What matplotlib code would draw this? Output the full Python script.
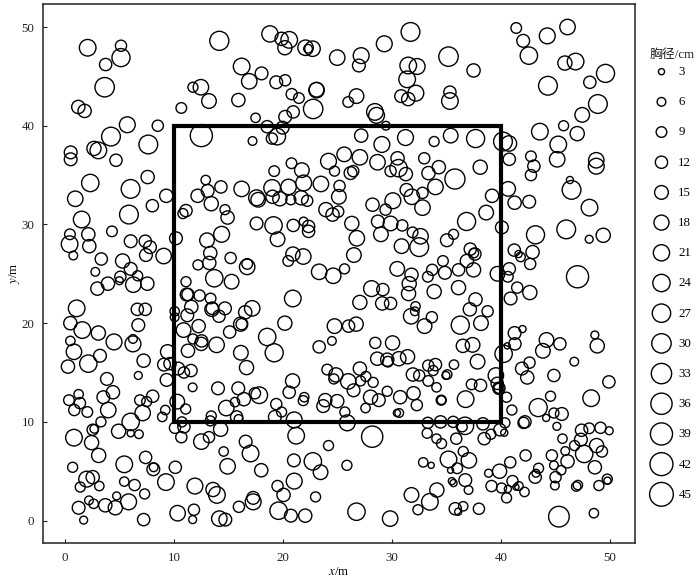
import matplotlib
matplotlib.use("Agg")
import matplotlib.pyplot as plt
from matplotlib.patches import Rectangle
import numpy as np

plt.rcParams['font.family'] = ['Liberation Serif', 'Noto Sans CJK SC']
plt.rcParams['mathtext.fontset'] = 'stix'

# tree positions (m) and diameter at breast height (cm), same order in all three lists
tree_x = [
    2.06, 5.12, 5.12, 3.71, 3.62, 1.2, 1.78, 14.15, 16.2, 16.9,
    18.03, 11.73, 12.46, 13.2, 15.9, 10.66, 5.7, 8.5, 4.2, 12.5,
    7.63, 2.64, 3.04, 0.5, 0.5, 4.66, 2.3, 7.57, 6.0, 9.28,
    17.2, 12.9, 13.08, 14.3, 16.2, 18.8, 19.87, 20.57, 20.17, 22.07,
    22.71, 22.3, 24.98, 27.18, 26.97, 29.3, 31.71, 31.5, 32.32, 31.4,
    32.2, 30.85, 31.5, 35.2, 35.33, 35.33, 37.5, 19.38, 20.2, 20.8,
    21.46, 23.08, 23.08, 22.77, 20.94, 20.2, 17.48, 18.55, 19.96, 19.47,
    18.98, 26.75, 25.99, 28.44, 28.59, 29.45, 27.18, 29.08, 31.25, 33.88,
    35.4, 24.18, 25.62, 27.06, 24.73, 20.78, 21.73, 19.19, 26.2, 26.45,
    28.68, 30.52, 30.61, 29.88, 31.28, 32.97, 33.36, 34.31, 34.0, 37.69,
    40.2, 40.75, 40.78, 38.11, 35.79, 40.68, 39.2, 41.42, 42.06, 42.58,
    44.27, 46.13, 45.89, 46.87, 48.18, 49.62, 44.33, 48.92, 47.48, 43.59,
    45.77, 47.02, 45.28, 45.18, 42.77, 43.04, 42.77, 48.77, 48.77, 46.35,
    46.5, 48.15, 41.27, 42.61, 38.66, 36.86, 40.1, 43.19, 46.01, 48.12,
    49.41, 35.66, 35.05, 37.2, 37.62, 37.53, 36.89, 41.24, 41.63, 41.82,
    42.92, 42.7, 34.69, 34.87, 36.12, 37.5, 39.7, 40.78, 40.65, 47.05,
    36.12, 41.51, 42.67, 40.9, 37.68, 37.16, 38.79, 36.28, 38.18, 41.27,
    42.0, 41.3, 40.59, 40.26, 44.2, 45.43, 43.87, 48.64, 48.86, 46.75,
    42.64, 41.94, 44.88, 36.52, 37.41, 37.87, 35.7, 17.57, 17.72, 19.0,
    20.51, 21.9, 23.48, 25.19, 25.13, 19.04, 19.71, 20.72, 21.67, 22.22,
    23.94, 24.55, 25.07, 17.57, 19.13, 19.5, 20.94, 21.89, 22.35, 22.35,
    26.32, 26.78, 26.51, 25.65, 24.61, 23.32, 21.86, 20.91, 20.48, 16.71,
    16.71, 20.9, 17.17, 16.53, 16.2, 20.17, 18.55, 19.19, 16.13, 16.65,
    23.32, 24.49, 24.73, 26.02, 26.72, 27.06, 28.13, 29.17, 29.11, 29.88,
    28.47, 30.06, 28.65, 29.57, 29.63, 30.64, 31.44, 32.17, 32.11, 31.77,
    33.0, 33.67, 33.88, 31.53, 31.59, 31.8, 30.49, 33.3, 33.7, 28.22,
    29.42, 30.09, 31.34, 31.83, 32.81, 32.81, 28.71, 29.88, 30.95, 28.99,
    31.9, 32.63, 32.51, 30.89, 0.92, 1.51, 5.85, 8.0, 12.16, 13.41,
    14.67, 14.91, 10.81, 11.09, 4.29, 0.43, 2.12, 0.4, 2.21, 0.74,
    6.01, 7.35, 7.78, 7.41, 9.04, 10.17, 3.31, 5.27, 6.01, 2.76,
    5.06, 4.97, 6.65, 3.92, 2.95, 6.25, 7.54, 13.02, 14.36, 13.32,
    13.23, 12.19, 15.19, 13.69, 15.28, 11.09, 11.15, 11.27, 12.34, 13.35,
    11.58, 11.21, 13.47, 13.5, 14.67, 14.12, 10.05, 10.05, 1.05, 0.47,
    1.57, 3.04, 0.47, 0.8, 3.19, 4.48, 6.62, 7.35, 6.71, 6.22,
    6.22, 7.2, 9.4, 10.87, 12.25, 11.73, 12.53, 12.49, 13.9, 11.27,
    15.1, 16.11, 2.12, 0.25, 9.07, 9.62, 10.38, 11.55, 10.9, 9.31,
    6.71, 3.83, 11.7, 14.03, 15.89, 4.38, 1.23, 0.34, 1.35, 3.5,
    0.83, 2.03, 3.95, 6.86, 7.48, 8.03, 7.11, 6.01, 3.28, 2.52,
    2.67, 4.9, 6.01, 6.77, 0.8, 2.42, 3.07, 9.19, 8.91, 10.29,
    11.06, 14.79, 15.59, 16.41, 15.74, 15.92, 13.41, 13.32, 10.72, 10.08,
    10.9, 10.66, 14.27, 13.2, 12.5, 14.55, 16.57, 14.91, 7.38, 5.42,
    0.68, 8.09, 8.12, 10.11, 1.97, 2.52, 1.38, 3.13, 5.42, 6.37,
    9.25, 11.91, 13.57, 13.93, 7.29, 4.72, 2.18, 2.61, 5.82, 3.68,
    4.6, 1.23, 1.69, 7.2, 10.32, 11.82, 11.7, 14.15, 14.7, 15.95,
    24.06, 24.86, 24.67, 25.99, 27.06, 27.12, 27.61, 28.28, 26.48, 29.57,
    28.04, 28.8, 27.58, 30.76, 31.99, 32.29, 20.88, 20.57, 21.95, 21.86,
    19.38, 19.87, 19.25, 21.03, 21.21, 23.88, 23.69, 24.98, 25.68, 25.9,
    28.19, 30.46, 30.67, 33.3, 34.47, 33.24, 34.1, 34.56, 32.88, 33.61,
    17.42, 17.82, 17.02, 18.0, 24.18, 25.87, 21.0, 22.74, 23.45, 21.03,
    19.5, 20.05, 22.99, 17.26, 17.26, 19.59, 20.72, 22.04, 26.75, 29.84,
    31.8, 34.13, 33.49, 32.39, 31.93, 32.51, 33.34, 33.79, 34.0, 33.34,
    34.1, 34.96, 35.08, 34.53, 34.55, 37.32, 38.14, 39.55, 39.67, 39.83,
    39.83, 36.77, 40.53, 41.02, 40.38, 35.63, 36.71, 36.46, 38.36, 39.92,
    39.09, 38.48, 40.32, 35.91, 35.2, 37.07, 36.55, 36.0, 35.39, 36.74,
    35.51, 35.66, 37.04, 35.82, 36.55, 36.09, 37.99, 45.34, 48.55, 43.44,
    48.3, 49.93, 42.43, 44.57, 44.88, 45.61, 44.17, 42.09, 42.22, 45.15,
    47.42, 48.12, 49.16, 49.96, 45.67, 47.36, 46.78, 48.8, 49.29, 45.92,
    47.66, 42.28, 44.69, 46.13, 44.88, 40.87, 48.64, 45.55, 43.47, 43.23,
    43.16, 39.89, 38.88, 45.03, 44.97, 49.78, 49.8, 49.01, 47.08, 46.93,
    41.08, 39.15, 40.07, 40.65, 41.66, 41.39, 42.18, 40.53,
]
tree_y = [
    47.9, 48.1, 46.9, 46.2, 43.9, 41.9, 41.5, 48.6, 46.0, 44.5,
    45.3, 43.9, 43.9, 42.5, 42.6, 41.8, 40.1, 40.0, 38.9, 39.0,
    38.1, 37.7, 37.5, 37.3, 36.6, 36.5, 34.2, 34.8, 33.6, 32.9,
    38.45, 34.5, 33.4, 33.8, 33.6, 49.3, 48.8, 48.7, 47.9, 47.9,
    47.8, 47.8, 46.9, 47.1, 46.1, 48.3, 49.5, 46.1, 46.0, 44.7,
    43.3, 43.0, 42.7, 47.0, 43.4, 42.5, 45.6, 44.4, 44.6, 43.2,
    42.8, 43.6, 43.65, 41.7, 41.4, 40.9, 40.8, 39.9, 39.8, 38.9,
    38.7, 43.0, 42.4, 41.4, 41.05, 40.0, 39.0, 38.1, 38.8, 38.4,
    39.0, 36.4, 37.1, 36.8, 35.4, 36.2, 35.5, 35.4, 35.2, 35.4,
    36.3, 36.7, 35.7, 35.4, 35.1, 36.7, 35.2, 35.8, 33.8, 38.7,
    38.4, 38.2, 36.6, 35.8, 34.6, 33.6, 32.9, 49.9, 48.6, 47.1,
    49.1, 50.0, 46.35, 46.5, 44.4, 45.3, 44.05, 42.2, 41.1, 39.4,
    40.0, 39.2, 38.1, 36.6, 36.9, 35.9, 35.0, 36.5, 35.9, 34.5,
    33.5, 31.7, 32.2, 32.3, 31.2, 30.3, 29.7, 28.95, 29.5, 28.5,
    28.9, 29.0, 28.4, 27.5, 27.0, 27.1, 26.3, 27.4, 27.0, 26.7,
    27.2, 26.0, 26.3, 25.1, 25.4, 25.4, 25.0, 25.5, 24.7, 24.7,
    23.6, 23.6, 23.1, 22.5, 22.4, 21.4, 21.2, 19.8, 20.0, 19.0,
    19.4, 17.9, 17.7, 16.9, 18.3, 17.9, 17.2, 18.8, 17.7, 16.1,
    16.0, 15.4, 14.7, 17.7, 17.8, 16.1, 15.8, 32.7, 32.5, 33.7,
    33.8, 34.2, 34.1, 33.9, 32.8, 32.8, 32.6, 32.5, 32.7, 32.4,
    31.5, 31.0, 31.3, 30.1, 29.9, 28.5, 29.9, 30.3, 29.8, 29.3,
    30.1, 28.6, 26.9, 25.5, 24.8, 25.2, 26.75, 27.0, 26.3, 26.0,
    25.7, 22.5, 21.5, 21.1, 19.9, 20.0, 18.6, 17.0, 17.0, 15.5,
    17.6, 18.2, 19.7, 19.7, 19.9, 22.1, 23.5, 23.4, 22.0, 22.0,
    18.0, 18.0, 16.4, 16.3, 16.1, 16.4, 16.6, 21.7, 21.2, 20.7,
    19.7, 20.6, 23.2, 23.0, 24.0, 24.9, 25.5, 24.7, 25.4, 32.0,
    31.5, 32.4, 33.5, 32.8, 33.2, 31.7, 30.3, 30.1, 29.9, 29.0,
    29.2, 28.8, 27.7, 27.8, 32.6, 30.5, 31.0, 31.9, 32.9, 32.1,
    31.5, 30.7, 31.1, 31.4, 29.3, 29.0, 29.0, 28.0, 27.8, 26.85,
    28.3, 28.3, 27.7, 26.9, 26.8, 28.6, 26.5, 26.3, 25.5, 25.2,
    24.7, 24.3, 24.8, 24.0, 23.5, 23.9, 24.0, 28.4, 29.0, 27.1,
    26.1, 25.9, 26.6, 24.55, 24.2, 24.2, 22.9, 22.9, 22.8, 22.5,
    21.65, 20.8, 21.4, 21.5, 21.5, 20.7, 21.2, 20.6, 21.5, 20.0,
    19.3, 19.0, 18.2, 17.1, 16.7, 18.1, 21.4, 21.4, 19.8, 18.4,
    17.9, 16.2, 17.1, 19.3, 19.7, 18.4, 18.2, 17.9, 17.8, 17.2,
    19.1, 19.9, 15.9, 15.6, 15.8, 15.9, 15.4, 15.2, 15.0, 14.25,
    14.7, 14.35, 13.5, 13.4, 13.4, 13.0, 12.8, 12.2, 11.9, 12.5,
    11.2, 11.0, 11.2, 12.2, 12.05, 12.6, 10.9, 10.0, 10.0, 9.2,
    9.3, 9.05, 8.85, 8.75, 8.4, 7.9, 6.6, 11.2, 10.5, 12.05,
    11.3, 11.4, 12.0, 12.3, 10.5, 10.3, 10.6, 10.1, 10.0, 9.4,
    9.5, 8.45, 9.25, 8.45, 8.0, 7.0, 8.0, 5.5, 6.4, 5.7,
    5.4, 5.2, 5.4, 5.4, 4.2, 4.4, 3.4, 3.5, 3.95, 3.6,
    3.9, 3.5, 3.15, 2.6, 2.7, 2.5, 2.05, 1.7, 1.9, 1.55,
    1.3, 1.3, 0.05, 0.1, 0.75, 1.1, 0.1, 0.2, 0.1, 1.4,
    15.3, 14.76, 14.35, 14.1, 15.4, 14.15, 14.6, 14.0, 13.2, 13.1,
    12.5, 12.2, 11.4, 12.5, 12.9, 11.7, 14.15, 13.0, 12.5, 12.15,
    11.8, 11.0, 10.5, 10.2, 8.6, 12.2, 11.6, 12.1, 11.0, 9.9,
    8.5, 10.9, 10.9, 9.9, 10.0, 8.85, 8.3, 7.8, 5.9, 5.6,
    12.9, 12.7, 6.8, 5.1, 7.6, 5.6, 6.1, 6.0, 4.9, 4.0,
    3.5, 2.6, 2.4, 2.3, 1.9, 1.0, 0.5, 0.5, 0.9, 0.2,
    2.6, 3.1, 1.9, 1.1, 14.8, 14.7, 15.7, 15.2, 15.8, 14.15,
    13.5, 14.7, 14.8, 12.2, 12.2, 13.8, 13.7, 14.7, 13.9, 13.4,
    13.4, 12.3, 12.5, 11.2, 9.9, 10.0, 9.6, 9.5, 9.8, 9.2,
    8.75, 8.3, 8.9, 8.3, 6.2, 6.1, 7.0, 5.3, 5.1, 4.1,
    4.0, 3.8, 3.1, 1.2, 1.45, 0.9, 1.2, 0.4, 0.75, 11.45,
    12.4, 14.05, 14.5, 12.6, 10.9, 10.8, 10.4, 9.9, 10.0, 9.55,
    9.15, 9.35, 9.4, 9.1, 8.3, 8.2, 7.6, 7.6, 7.0, 7.05,
    6.75, 6.6, 6.6, 6.0, 5.6, 5.9, 5.4, 5.1, 5.3, 4.8,
    4.4, 5.0, 4.8, 4.4, 3.55, 4.2, 4.05, 3.55, 3.6, 3.45,
    4.0, 3.5, 3.3, 3.2, 3.5, 3.4, 2.9, 2.3,
]
tree_dbh = [
    22, 10, 26, 12, 30, 14, 14, 29, 22, 19,
    13, 8, 19, 17, 14, 9, 20, 10, 28, 39,
    28, 16, 22, 13, 13, 12, 24, 14, 28, 14,
    6, 7, 13, 12, 19, 21, 14, 22, 16, 19,
    19, 6, 19, 20, 13, 20, 28, 22, 20, 22,
    20, 13, 14, 30, 12, 22, 14, 13, 10, 10,
    9, 19, 17, 30, 12, 13, 7, 12, 13, 22,
    10, 17, 9, 22, 20, 6, 14, 20, 20, 8,
    17, 20, 17, 19, 8, 9, 17, 9, 13, 10,
    19, 14, 24, 10, 14, 10, 14, 14, 19, 26,
    28, 19, 12, 16, 32, 17, 14, 9, 13, 24,
    20, 19, 16, 22, 12, 26, 28, 28, 17, 22,
    8, 16, 22, 19, 9, 12, 10, 19, 20, 4,
    28, 22, 14, 13, 17, 26, 13, 26, 28, 5,
    16, 8, 13, 12, 12, 7, 14, 12, 4, 7,
    14, 10, 9, 13, 12, 16, 17, 12, 9, 39,
    16, 10, 16, 13, 14, 14, 10, 26, 17, 13,
    4, 12, 3, 24, 17, 12, 17, 5, 16, 6,
    10, 13, 12, 14, 17, 17, 7, 20, 17, 22,
    19, 20, 19, 10, 17, 14, 16, 8, 16, 10,
    16, 14, 10, 13, 24, 17, 12, 6, 12, 12,
    16, 19, 17, 8, 19, 19, 19, 16, 9, 9,
    19, 22, 19, 14, 10, 16, 24, 26, 17, 16,
    12, 6, 17, 12, 16, 16, 20, 12, 14, 12,
    10, 16, 14, 14, 9, 16, 16, 7, 6, 19,
    17, 10, 16, 16, 16, 14, 17, 9, 10, 14,
    10, 20, 13, 19, 10, 19, 13, 17, 10, 17,
    9, 19, 28, 17, 19, 22, 28, 12, 14, 16,
    8, 14, 8, 12, 9, 9, 14, 22, 14, 6,
    13, 12, 13, 13, 19, 13, 12, 16, 13, 6,
    10, 5, 8, 14, 14, 19, 14, 17, 20, 14,
    14, 8, 10, 24, 17, 8, 13, 12, 10, 9,
    14, 13, 16, 12, 13, 12, 7, 6, 22, 14,
    22, 16, 7, 19, 13, 20, 12, 12, 13, 6,
    20, 14, 16, 17, 14, 8, 12, 14, 19, 14,
    12, 16, 24, 14, 13, 12, 13, 12, 10, 13,
    5, 13, 6, 13, 13, 14, 7, 9, 10, 13,
    10, 9, 19, 9, 8, 12, 19, 24, 8, 10,
    6, 16, 4, 6, 22, 16, 16, 7, 7, 17,
    8, 19, 7, 14, 12, 6, 8, 8, 8, 10,
    12, 10, 16, 10, 19, 7, 13, 19, 12, 22,
    8, 13, 6, 12, 20, 14, 8, 7, 7, 10,
    22, 20, 16, 22, 8, 5, 6, 7, 20, 14,
    16, 13, 5, 12, 19, 10, 5, 19, 13, 10,
    9, 16, 8, 19, 14, 8, 8, 8, 13, 8,
    16, 13, 7, 14, 14, 10, 16, 12, 7, 8,
    10, 8, 13, 20, 22, 14, 13, 14, 8, 20,
    36, 4, 6, 10, 12, 8, 7, 8, 7, 3,
    10, 22, 22, 14, 8, 8, 13, 24, 17, 20,
    10, 14, 8, 13, 20, 24, 13, 14, 24, 19,
    17, 16, 22, 8, 14, 10, 10, 8, 12, 9,
    7, 5, 7, 8, 6, 9, 12, 19, 12, 12,
    8, 22, 8, 8, 8, 10, 24, 8, 12, 12,
    8, 12, 4, 10, 22, 19, 8, 9, 3, 13,
    4, 4, 6, 12, 7, 4, 10, 34, 7, 26,
    22, 12, 14, 8, 8, 13, 4, 10, 12, 5,
    12, 9, 10, 5, 7, 13, 8, 16, 10, 6,
    24, 10, 10, 14, 6, 10, 14, 7, 8, 5,
    12, 16, 5, 10, 6, 8, 4, 8, 7, 7,
    10, 10, 8, 4, 6, 3, 7, 8,
]

legend_dbh = [3, 6, 9, 12, 15, 18, 21, 24, 27, 30, 33, 36, 39, 42, 45]
x_ticks = [0, 10, 20, 30, 40, 50]
y_ticks = [0, 10, 20, 30, 40, 50]
core_x = [10, 40]
core_y = [10, 40]

SIZE_K = 6.5  # marker area per cm of dbh


def main():
    fig = plt.figure(figsize=(7, 5.79), dpi=100)
    ax = fig.add_axes([42.7 / 700, 1 - 543.3 / 579, 592 / 700, 539 / 579])

    ax.scatter(tree_x, tree_y, s=SIZE_K * np.array(tree_dbh), facecolors='none',
               edgecolors='black', linewidths=1.0, zorder=2)

    # core plot
    ax.add_patch(Rectangle((core_x[0], core_y[0]), core_x[1] - core_x[0], core_y[1] - core_y[0],
                           fill=False, edgecolor='black', linewidth=3.0, joinstyle='miter', zorder=3))

    ax.set_xlim(-2.07, 52.3)
    ax.set_ylim(-2.3, 52.3)
    ax.set_xticks(x_ticks)
    ax.set_yticks(y_ticks)
    ax.tick_params(direction='in', length=3, width=0.8, labelsize=9.3, pad=6, colors='#222222')
    for s in ax.spines.values():
        s.set_linewidth(1.1)
        s.set_color('#222222')

    ax.set_xlabel(r'$\mathit{x}$/m', fontsize=9.3, labelpad=2)
    ax.set_ylabel(r'$\mathit{y}$/m', fontsize=9.3, labelpad=-0.5)

    handles = [plt.scatter([], [], s=SIZE_K * d, facecolors='none', edgecolors='black', linewidths=1.0)
               for d in legend_dbh]
    ax.legend(handles, [str(d) for d in legend_dbh], loc='upper left',
              bbox_to_anchor=(1.0234, 0.8855), frameon=False, fontsize=9.3,
              labelspacing=1.405, handletextpad=0.3, borderpad=0, borderaxespad=0, scatterpoints=1)
    fig.text(672.5 / 700, 1 - 55 / 579, '胸径/cm', fontsize=9.3, ha='center', va='center', color='#222222')

    fig.savefig('out.png', dpi=100)


if __name__ == "__main__":
    main()
